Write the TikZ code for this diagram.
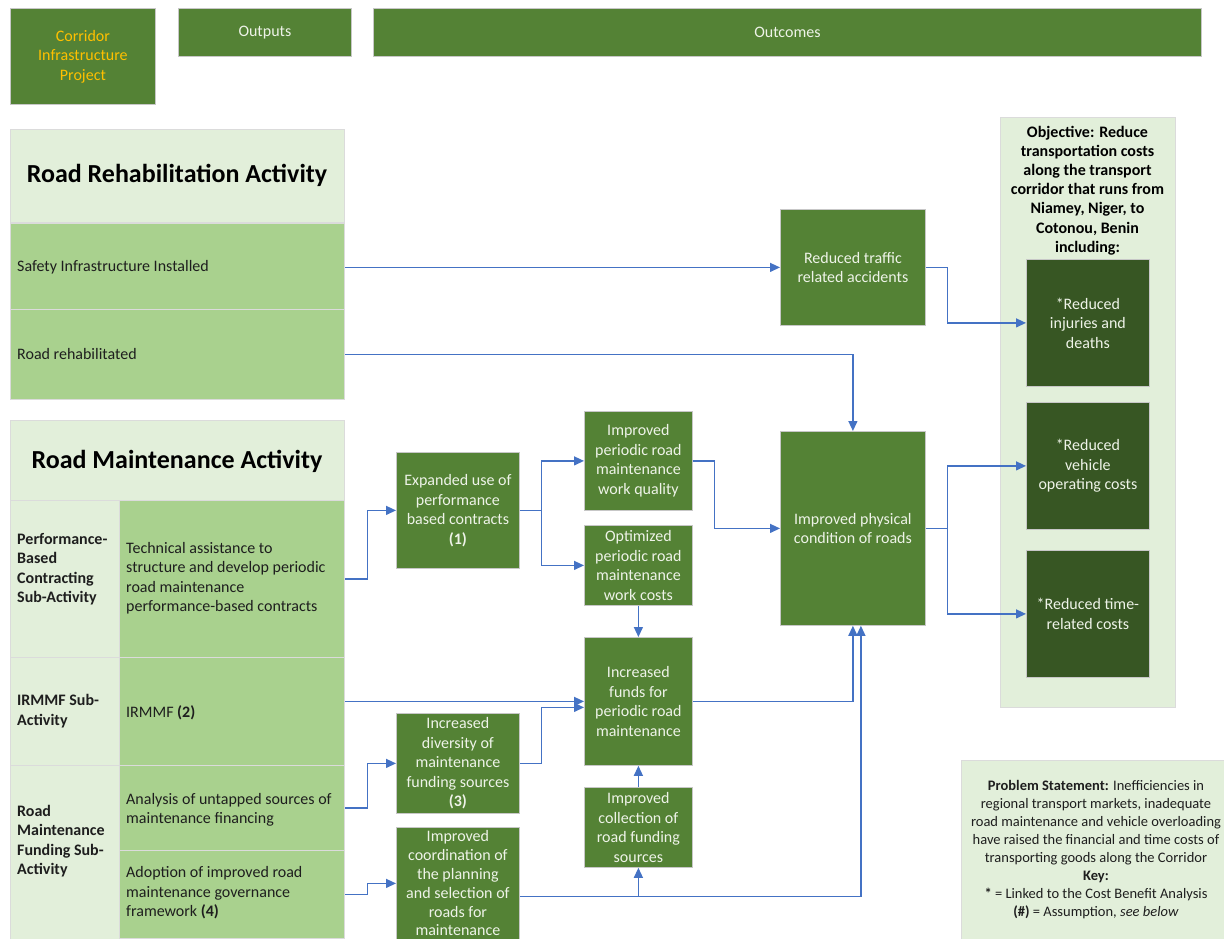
\documentclass[tikz,border=0pt]{standalone}
\usepackage{fontspec}
\setmainfont{Carlito}
\usetikzlibrary{arrows.meta}
\definecolor{gD}{RGB}{84,130,53}
\definecolor{gDD}{RGB}{55,86,35}
\definecolor{gL}{RGB}{169,209,142}
\definecolor{gLL}{RGB}{226,239,218}
\definecolor{arrblue}{RGB}{68,114,196}
\definecolor{gold}{RGB}{255,192,0}
\definecolor{boxtxt}{RGB}{238,243,232}
\definecolor{celltxt}{RGB}{30,30,30}
\begin{document}
\begin{tikzpicture}[x=1pt,y=-1pt,
  every node/.style={font=\fontsize{16}{19.5}\selectfont},
  gbox/.style={fill=gD, draw=black!22, line width=0.8pt, text=boxtxt, align=center, inner sep=0pt, anchor=north west},
  dbox/.style={gbox, fill=gDD},
  lcell/.style={fill=gLL, draw=black!14, line width=1.2pt, anchor=north west, inner sep=0pt},
  ccell/.style={lcell, fill=gL},
  ctext/.style={anchor=west, align=left, text=celltxt, inner sep=0pt},
  btext/.style={ctext, font=\fontsize{16}{19.5}\selectfont\bfseries},
  ttl/.style={font=\fontsize{26}{30}\selectfont\bfseries, text=black, inner sep=0pt},
  arr/.style={draw=arrblue, line width=1.3pt, -{Triangle[length=10pt,width=9pt]}}
]
\useasboundingbox[fill=white] (0,0) rectangle (1224,938);

% header
\node[gbox, text=gold, minimum width=145pt, minimum height=96pt] (corr) at (10,8) {Corridor\\Infrastructure\\Project};
\node[gbox, minimum width=173pt, minimum height=48pt] (outp) at (178,8) {Outputs};
\node[gbox, minimum width=828pt, minimum height=48pt] (outc) at (373,8) {Outcomes};

% left column: rehabilitation
\node[lcell, minimum width=334pt, minimum height=93pt] (rrh) at (10,129) {};
\node[ttl] (rrht) at (177,175) {Road Rehabilitation Activity};
\node[ccell, minimum width=334pt, minimum height=86pt] (safety) at (10,223) {};
\node[ctext] (safetyt) at (17,267) {Safety Infrastructure Installed};
\node[ccell, minimum width=334pt, minimum height=90pt] (rehab) at (10,309) {};
\node[ctext] (rehabt) at (17,354) {Road rehabilitated};

% left column: maintenance
\node[lcell, minimum width=334pt, minimum height=80pt] (rmh) at (10,420) {};
\node[ttl] (rmht) at (177,461) {Road Maintenance Activity};
\node[lcell, minimum width=109pt, minimum height=157pt] (pbcL) at (10,500) {};
\node[btext] (pbcLt) at (17,569) {Performance-\\Based\\Contracting\\Sub-Activity};
\node[ccell, minimum width=225pt, minimum height=157pt] (tech) at (119,500) {};
\node[ctext] (techt) at (126,578) {Technical assistance to\\structure and develop periodic\\road maintenance\\performance-based contracts};
\node[lcell, minimum width=109pt, minimum height=108pt] (irmL) at (10,657) {};
\node[btext] (irmLt) at (17,711) {IRMMF Sub-\\Activity};
\node[ccell, minimum width=225pt, minimum height=108pt] (irmmf) at (119,657) {};
\node[ctext] (irmmft) at (126,713) {IRMMF \textbf{(2)}};
\node[lcell, minimum width=109pt, minimum height=180pt] (rmfL) at (10,765) {};
\node[btext] (rmfLt) at (17,841) {Road\\Maintenance\\Funding Sub-\\Activity};
\node[ccell, minimum width=225pt, minimum height=85pt] (anal) at (119,765) {};
\node[ctext] (analt) at (126,810) {Analysis of untapped sources of\\maintenance financing};
\node[ccell, minimum width=225pt, minimum height=88pt] (adopt) at (119,850) {};
\node[ctext] (adoptt) at (126,893) {Adoption of improved road\\maintenance governance\\framework \textbf{(4)}};

% middle boxes
\node[gbox, minimum width=123pt, minimum height=116pt] (exp) at (396,452) {Expanded use of\\performance\\based contracts\\\textbf{(1)}};
\node[gbox, minimum width=108pt, minimum height=99pt] (qual) at (584,411) {Improved\\periodic road\\maintenance\\work quality};
\node[gbox, minimum width=108pt, minimum height=80pt] (opt) at (584,525) {Optimized\\periodic road\\maintenance\\work costs};
\node[gbox, minimum width=108pt, minimum height=128pt] (funds) at (584,637) {Increased\\funds for\\periodic road\\maintenance};
\node[gbox, minimum width=108pt, minimum height=80pt] (coll) at (584,787) {Improved\\collection of\\road funding\\sources};
\node[gbox, minimum width=123pt, minimum height=100pt] (div) at (396,713) {Increased\\diversity of\\maintenance\\funding sources\\\textbf{(3)}};
\node[gbox, minimum width=123pt, minimum height=112pt, font=\fontsize{16}{18.8}\selectfont] (coord) at (396,827) {Improved\\coordination of\\the planning\\and selection of\\roads for\\maintenance};
\node[gbox, minimum width=145pt, minimum height=116pt] (traffic) at (780,209) {Reduced traffic\\related accidents};
\node[gbox, minimum width=145pt, minimum height=194pt] (phys) at (780,431) {Improved physical\\condition of roads};

% objective
\node[lcell, minimum width=175pt, minimum height=590pt] (obj) at (1000,117) {};
\node[align=center, inner sep=0pt, font=\fontsize{16}{19.2}\selectfont\bfseries, text=black] (objt) at (1087.5,190.5) {Objective: Reduce\\transportation costs\\along the transport\\corridor that runs from\\Niamey, Niger, to\\Cotonou, Benin\\including:};
\node[dbox, minimum width=123pt, minimum height=127pt] (inj) at (1026,259) {*Reduced\\injuries and\\deaths};
\node[dbox, minimum width=123pt, minimum height=127pt] (veh) at (1026,402) {*Reduced\\vehicle\\operating costs};
\node[dbox, minimum width=123pt, minimum height=127pt] (time) at (1026,550) {*Reduced time-\\related costs};

% problem statement
\node[lcell, minimum width=272pt, minimum height=190pt] (prob) at (961,760) {};
\node[align=center, inner sep=0pt, font=\fontsize{14.5}{17.9}\selectfont, text=celltxt] (probt) at (1096,849.5) {\textbf{Problem Statement:} Inefficiencies in\\regional transport markets, inadequate\\road maintenance and vehicle overloading\\have raised the financial and time costs of\\transporting goods along the Corridor\\\textbf{Key:}\\\textbf{*} = Linked to the Cost Benefit Analysis\\\textbf{(\#)} = Assumption, \textit{see below}};

% connectors
\draw[arr] (traffic.west -| safety.east) -- (traffic.west);
\draw[arr] (traffic.east) -- ++(22,0) |- (inj.west);
\draw[arr] (rehab.east) -| (phys.north);
\draw[arr] (tech.east) -- ++(22,0) |- (exp.west);
\draw[arr] (exp.east) -- ++(22,0) |- (qual.west);
\draw[arr] (exp.east) -- ++(22,0) |- (opt.west);
\draw[arr] (qual.east) -- ++(22,0) |- (phys.west);
\draw[arr] (opt.south) -- (funds.north);
\draw[arr] (funds.west -| irmmf.east) -- (funds.west);
\draw[arr] (div.east) -- ++(22,0) |- ([yshift=-6pt]funds.west);
\draw[arr] (funds.east) -| (phys.south);
\draw[arr] ([yshift=-13pt]coord.east) -| ([xshift=8pt]phys.south);
\coordinate (cj) at ([yshift=-13pt]coord.east -| coll.south);
\draw[arr] (cj) -- (coll.south);
\draw[arr] (coll.north) -- (funds.south);
\draw[arr] (anal.east) -- ++(22,0) |- (div.west);
\draw[arr] (adopt.east) -- ++(22,0) |- (coord.west);
\draw[arr] (phys.east) -- ++(22,0) |- (veh.west);
\draw[arr] (phys.east) -- ++(22,0) |- (time.west);
\end{tikzpicture}
\end{document}
